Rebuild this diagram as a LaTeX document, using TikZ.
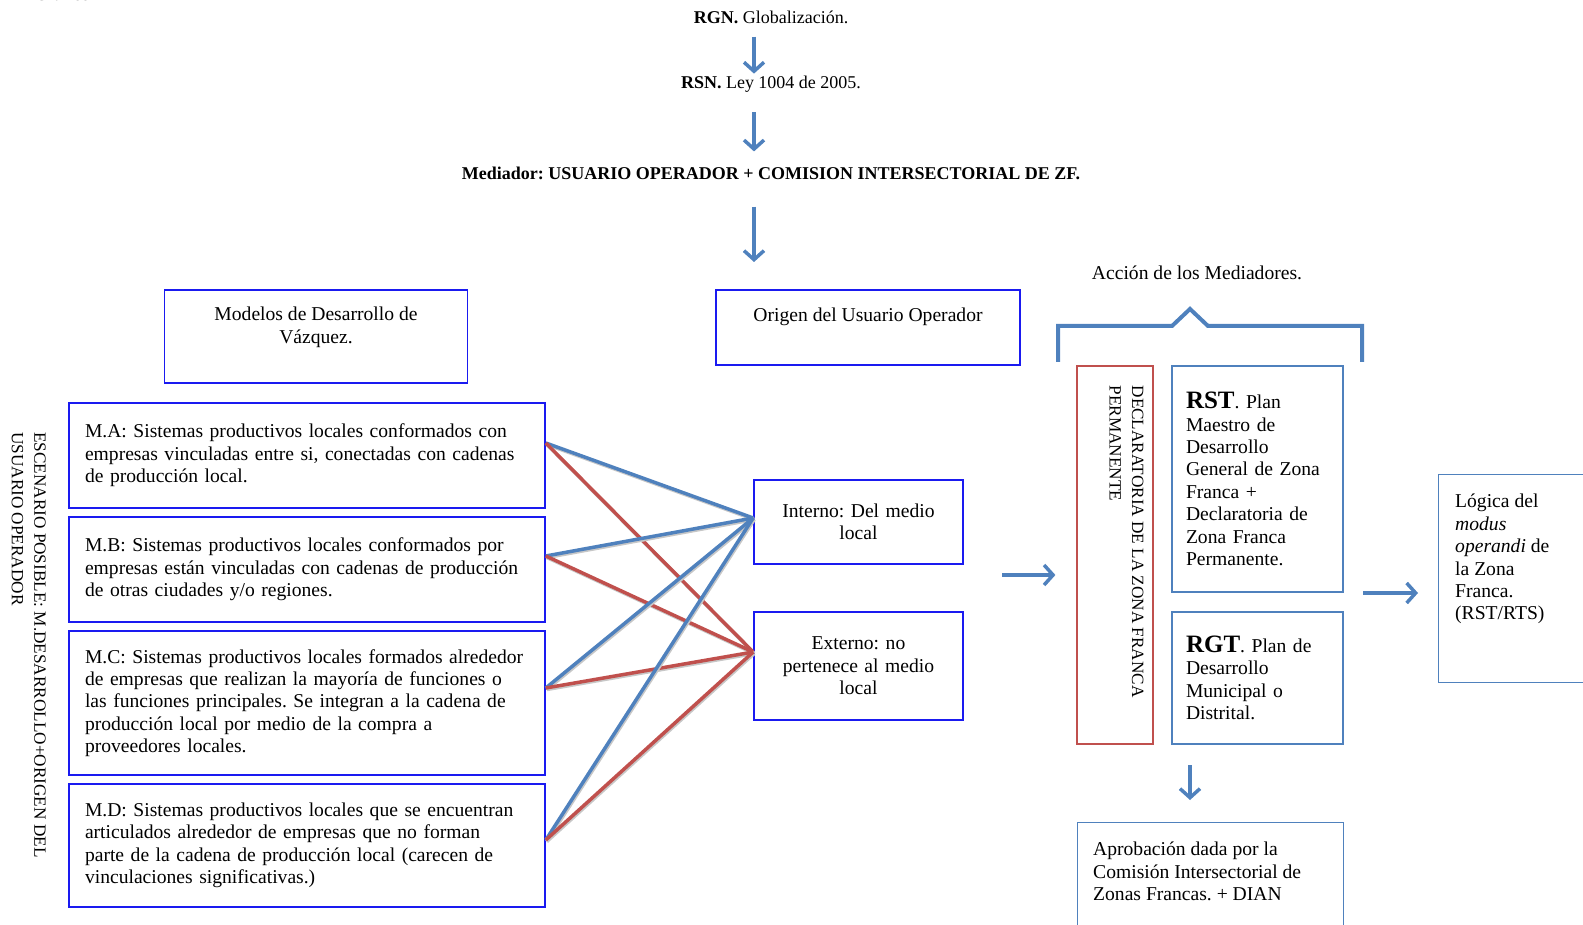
\documentclass[tikz,border=0pt]{standalone}
\usepackage{fontspec}
\setmainfont{Liberation Serif}
\usetikzlibrary{arrows.meta,positioning}
\definecolor{accblue}{HTML}{4F81BD}
\definecolor{accred}{HTML}{C0504D}
\definecolor{boxblue}{HTML}{1A1AF0}
\frenchspacing

\begin{document}
\begin{tikzpicture}[x=1pt,y=-1pt,>={Straight Barb[length=9pt,width=20pt]}]
    \tikzstyle{hdr}=[inner sep=0pt,font=\fontsize{18}{21}\selectfont]
    \tikzstyle{txt}=[inner sep=0pt,font=\fontsize{19.6}{22.4}\selectfont]
    \tikzstyle{vtxt}=[inner sep=0pt,rotate=-90,anchor=north west,align=left,
    font=\fontsize{17.2}{22.5}\selectfont]
    \tikzstyle{modelo}=[rectangle,draw=boxblue,line width=1.6pt,inner xsep=16pt,
    inner ysep=0pt,minimum width=476pt,text width=444pt,align=left,
    font=\fontsize{19.6}{22.4}\selectfont]
    \tikzstyle{origen}=[rectangle,draw=boxblue,line width=1.6pt,inner sep=0pt,
    text width=190pt,align=center,font=\fontsize{19.6}{22.4}\selectfont]
    \tikzstyle{plan}=[rectangle,draw=accblue,line width=1.2pt,inner xsep=14pt,
    inner ysep=0pt,minimum width=171pt,text width=143pt,align=left,
    font=\fontsize{19.6}{22.4}\selectfont]
    \tikzstyle{arr}=[->,draw=accblue,line width=3.5pt]
    \tikzstyle{link}=[line width=3.5pt,preaction={draw=black!22,line width=3.5pt,
    transform canvas={shift={(1pt,-1.5pt)}}}]

    \useasboundingbox (0,0) rectangle (1583,925);

    \node[hdr,anchor=base west](grafico) at (35,1){Gráfico 2};

    % cadena superior
    \node[hdr](rgn) at (771,17){\textbf{RGN.} Globalización.};
    \node[hdr](rsn) at (771,84){\textbf{RSN.} Ley 1004 de 2005.};
    \node[hdr](mediador) at (771,173){\textbf{Mediador: USUARIO OPERADOR + COMISION INTERSECTORIAL DE ZF.}};
    \coordinate (med_tip) at (754,262);

    \draw[arr,shorten <=13pt,shorten >=2pt] ([xshift=-17pt]rgn.south) -- ([xshift=-17pt]rsn.north);
    \draw[arr,shorten <=20pt,shorten >=15pt] ([xshift=-17pt]rsn.south) -- ([xshift=-17pt]mediador.north);
    \draw[arr,shorten <=27pt] ([xshift=-17pt]mediador.south) -- (med_tip);

    % titulos
    \node[origen,minimum width=303pt,minimum height=93pt](modelos) at (316,336.5){};
    \node[txt,align=center](modelos_txt)[below=18pt of modelos.north]{Modelos de Desarrollo de\\Vázquez.};
    \node[origen,minimum width=304pt,minimum height=75pt](origen) at (868,327.5){};
    \node[txt](origen_txt)[below=19pt of origen.north]{Origen del Usuario Operador};

    % modelos de desarrollo
    \node[modelo,minimum height=105pt](ma) at (307,455.5){M.A: Sistemas productivos locales conformados con\\
    empresas vinculadas entre si, conectadas con cadenas\\de producción local.};
    \node[modelo,minimum height=105pt](mb) at (307,569.5){M.B: Sistemas productivos locales conformados por\\
    empresas están vinculadas con cadenas de producción\\de otras ciudades y/o regiones.};
    \node[modelo,minimum height=144pt](mc) at (307,703){M.C: Sistemas productivos locales formados alrededor\\
    de empresas que realizan la mayoría de funciones o\\las funciones principales. Se integran a la cadena de\\
    producción local por medio de la compra a\\proveedores locales.};
    \node[modelo,minimum height=123pt](md) at (307,845.5){M.D: Sistemas productivos locales que se encuentran\\
    articulados alrededor de empresas que no forman\\parte de la cadena de producción local (carecen de\\
    vinculaciones significativas.)};

    \node[vtxt](escenario) at (46,432){ESCENARIO POSIBLE: M.DESARROLLO+ORIGEN DEL\\USUARIO OPERADOR};

    % origen
    \node[origen,minimum width=209pt,minimum height=84pt](interno) at (858.5,522){Interno: Del medio\\local};
    \node[origen,minimum width=209pt,minimum height=108pt](externo) at (858.5,666){Externo: no\\pertenece al medio\\local};

    \draw[link,accblue] ([yshift=12.5pt]ma.east) -- ([yshift=4pt]interno.west);
    \draw[link,accred] ([yshift=12.5pt]ma.east) -- ([yshift=14pt]externo.west);
    \draw[link,accblue] ([yshift=13.5pt]mb.east) -- ([yshift=4pt]interno.west);
    \draw[link,accred] ([yshift=13.5pt]mb.east) -- ([yshift=14pt]externo.west);
    \draw[link,accblue] ([yshift=15pt]mc.east) -- ([yshift=4pt]interno.west);
    \draw[link,accred] ([yshift=15pt]mc.east) -- ([yshift=14pt]externo.west);
    \draw[link,accblue] ([yshift=5.5pt]md.east) -- ([yshift=4pt]interno.west);
    \draw[link,accred] ([yshift=5.5pt]md.east) -- ([yshift=14pt]externo.west);

    % accion de los mediadores
    \node[txt](accion) at (1197,273){Acción de los Mediadores.};
    \draw[accblue,line width=4pt] (1058,362) -- (1058,326) -- (1172,326) -- (1190,309)
    -- (1208,326) -- (1362,326) -- (1362,362);

    \node[rectangle,draw=accred,line width=1.2pt,minimum width=76pt,minimum height=378pt](decl) at (1115,555){};
    \node[vtxt](decl_txt) at ([xshift=-10pt,yshift=-20pt]decl.north east){DECLARATORIA DE LA ZONA FRANCA\\PERMANENTE};

    \node[plan,minimum height=226pt](rst) at (1257.5,479){{\fontsize{25}{22.4}\selectfont\textbf{RST}}. Plan\\
    Maestro de\\Desarrollo\\General de Zona\\Franca +\\Declaratoria de\\Zona Franca\\Permanente.};
    \node[plan,minimum height=132pt](rgt) at (1257.5,678){{\fontsize{25}{22.4}\selectfont\textbf{RGT}}. Plan de\\
    Desarrollo\\Municipal o\\Distrital.};

    \node[rectangle,draw=accblue,line width=1.2pt,anchor=north west,minimum width=170pt,
    minimum height=208pt](logica) at (1438,474){};
    \node[txt,align=left,anchor=north west](logica_txt) at ([xshift=17pt,yshift=-20pt]logica.north west){Lógica del\\
    \textit{modus}\\\textit{operandi} de\\la Zona\\Franca.\\(RST/RTS)};

    \node[rectangle,draw=accblue,line width=1.2pt,anchor=north west,minimum width=266pt,
    minimum height=120pt](aprob) at (1077,822){};
    \node[txt,align=left,anchor=north west](aprob_txt) at ([xshift=16pt,yshift=-20pt]aprob.north west){Aprobación dada por la\\
    Comisión Intersectorial de\\Zonas Francas. + DIAN};

    \coordinate (to_decl) at (1002,575);
    \coordinate (to_logica) at (1363,593);
    \coordinate (to_aprob) at (1190,765);
    \draw[arr,shorten >=21pt] (to_decl) -- (to_decl -| decl.west);
    \draw[arr,shorten >=20pt] (to_logica) -- (to_logica -| logica.west);
    \draw[arr,shorten >=22pt] (to_aprob) -- (to_aprob |- aprob.north);
\end{tikzpicture}
\end{document}
